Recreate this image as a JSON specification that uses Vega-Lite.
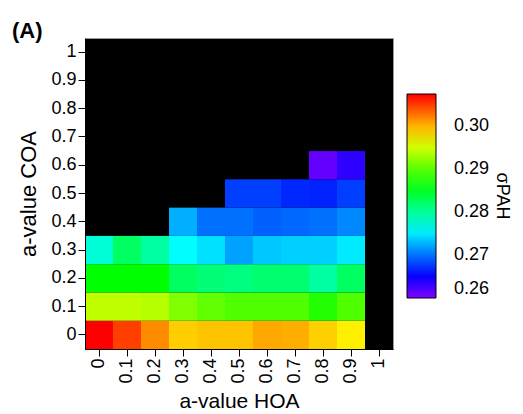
{
  "$schema": "https://vega.github.io/schema/vega-lite/v6.json",
  "autosize": {"type": "none"},
  "padding": {"left": 85, "top": 38, "right": 130, "bottom": 65},
  "width": 308,
  "height": 311,
  "title": {"text": "(A)", "anchor": "start", "frame": "group", "dx": -73, "dy": 23, "offset": 1, "baseline": "alphabetic", "fontSize": 22, "fontWeight": "bold", "font": "Liberation Sans", "color": "black"},
  "config": {
    "font": "Liberation Sans",
    "view": {"fill": "black", "stroke": "#999999", "strokeWidth": 1},
    "axis": {"labelColor": "black", "titleColor": "black", "tickColor": "black", "domainColor": "black", "labelFontSize": 18, "titleFontSize": 22, "titleFontWeight": "normal", "tickSize": 7, "labelPadding": 2}
  },
  "data": {"values": [
    {"hoa": 0, "coa": 0, "s": 0.3075},
    {"hoa": 0.1, "coa": 0, "s": 0.3049},
    {"hoa": 0.2, "coa": 0, "s": 0.3017},
    {"hoa": 0.3, "coa": 0, "s": 0.2990},
    {"hoa": 0.4, "coa": 0, "s": 0.2994},
    {"hoa": 0.5, "coa": 0, "s": 0.2994},
    {"hoa": 0.6, "coa": 0, "s": 0.3005},
    {"hoa": 0.7, "coa": 0, "s": 0.3003},
    {"hoa": 0.8, "coa": 0, "s": 0.2989},
    {"hoa": 0.9, "coa": 0, "s": 0.2976},
    {"hoa": 0, "coa": 0.1, "s": 0.2943},
    {"hoa": 0.1, "coa": 0.1, "s": 0.2943},
    {"hoa": 0.2, "coa": 0.1, "s": 0.2939},
    {"hoa": 0.3, "coa": 0.1, "s": 0.2917},
    {"hoa": 0.4, "coa": 0.1, "s": 0.2904},
    {"hoa": 0.5, "coa": 0.1, "s": 0.2897},
    {"hoa": 0.6, "coa": 0.1, "s": 0.2897},
    {"hoa": 0.7, "coa": 0.1, "s": 0.2897},
    {"hoa": 0.8, "coa": 0.1, "s": 0.2878},
    {"hoa": 0.9, "coa": 0.1, "s": 0.2897},
    {"hoa": 0, "coa": 0.2, "s": 0.2864},
    {"hoa": 0.1, "coa": 0.2, "s": 0.2864},
    {"hoa": 0.2, "coa": 0.2, "s": 0.2864},
    {"hoa": 0.3, "coa": 0.2, "s": 0.2824},
    {"hoa": 0.4, "coa": 0.2, "s": 0.2815},
    {"hoa": 0.5, "coa": 0.2, "s": 0.2811},
    {"hoa": 0.6, "coa": 0.2, "s": 0.2818},
    {"hoa": 0.7, "coa": 0.2, "s": 0.2818},
    {"hoa": 0.8, "coa": 0.2, "s": 0.2797},
    {"hoa": 0.9, "coa": 0.2, "s": 0.2824},
    {"hoa": 0, "coa": 0.3, "s": 0.2774},
    {"hoa": 0.1, "coa": 0.3, "s": 0.2824},
    {"hoa": 0.2, "coa": 0.3, "s": 0.2797},
    {"hoa": 0.3, "coa": 0.3, "s": 0.2758},
    {"hoa": 0.4, "coa": 0.3, "s": 0.2746},
    {"hoa": 0.5, "coa": 0.3, "s": 0.2720},
    {"hoa": 0.6, "coa": 0.3, "s": 0.2735},
    {"hoa": 0.7, "coa": 0.3, "s": 0.2739},
    {"hoa": 0.8, "coa": 0.3, "s": 0.2739},
    {"hoa": 0.9, "coa": 0.3, "s": 0.2750},
    {"hoa": 0.3, "coa": 0.4, "s": 0.2725},
    {"hoa": 0.4, "coa": 0.4, "s": 0.2699},
    {"hoa": 0.5, "coa": 0.4, "s": 0.2699},
    {"hoa": 0.6, "coa": 0.4, "s": 0.2693},
    {"hoa": 0.7, "coa": 0.4, "s": 0.2696},
    {"hoa": 0.8, "coa": 0.4, "s": 0.2699},
    {"hoa": 0.9, "coa": 0.4, "s": 0.2709},
    {"hoa": 0.5, "coa": 0.5, "s": 0.2679},
    {"hoa": 0.6, "coa": 0.5, "s": 0.2679},
    {"hoa": 0.7, "coa": 0.5, "s": 0.2669},
    {"hoa": 0.8, "coa": 0.5, "s": 0.2667},
    {"hoa": 0.9, "coa": 0.5, "s": 0.2679},
    {"hoa": 0.8, "coa": 0.6, "s": 0.2612},
    {"hoa": 0.9, "coa": 0.6, "s": 0.2634}
  ]},
  "mark": {"type": "rect"},
  "encoding": {
    "x": {"field": "hoa", "type": "ordinal", "title": "a-value HOA",
      "scale": {"domain": [0, 0.1, 0.2, 0.3, 0.4, 0.5, 0.6, 0.7, 0.8, 0.9, 1], "paddingInner": 0, "paddingOuter": 0},
      "axis": {"labelAngle": 270, "titlePadding": 7, "titleFontSize": 21}},
    "y": {"field": "coa", "type": "ordinal", "title": "a-value COA",
      "scale": {"domain": [1, 0.9, 0.8, 0.7, 0.6, 0.5, 0.4, 0.3, 0.2, 0.1, 0], "paddingInner": 0, "paddingOuter": 0},
      "axis": {"titlePadding": 10}},
    "color": {"field": "s", "type": "quantitative",
      "scale": {"domain": [0.26, 0.26528, 0.27583, 0.28639, 0.29694, 0.3075], "range": ["#8000ff", "#0000ff", "#00ffff", "#00ff00", "#ffff00", "#ff0000"], "interpolate": "rgb"},
      "legend": {"type": "gradient", "title": "σPAH", "orient": "none", "legendX": 322, "legendY": 56, "direction": "vertical", "gradientLength": 204, "gradientThickness": 29, "gradientStrokeColor": "black", "gradientStrokeWidth": 1, "values": [0.26, 0.27, 0.28, 0.29, 0.30], "format": ".2f", "labelFontSize": 18, "labelColor": "black", "labelOffset": 18, "titleOrient": "right", "titleFontSize": 18, "titleFontWeight": "normal", "titleColor": "black", "titleAnchor": "middle", "titlePadding": 4,
        "encode": {"title": {"update": {"angle": {"value": 90}}}}}}
  }
}
